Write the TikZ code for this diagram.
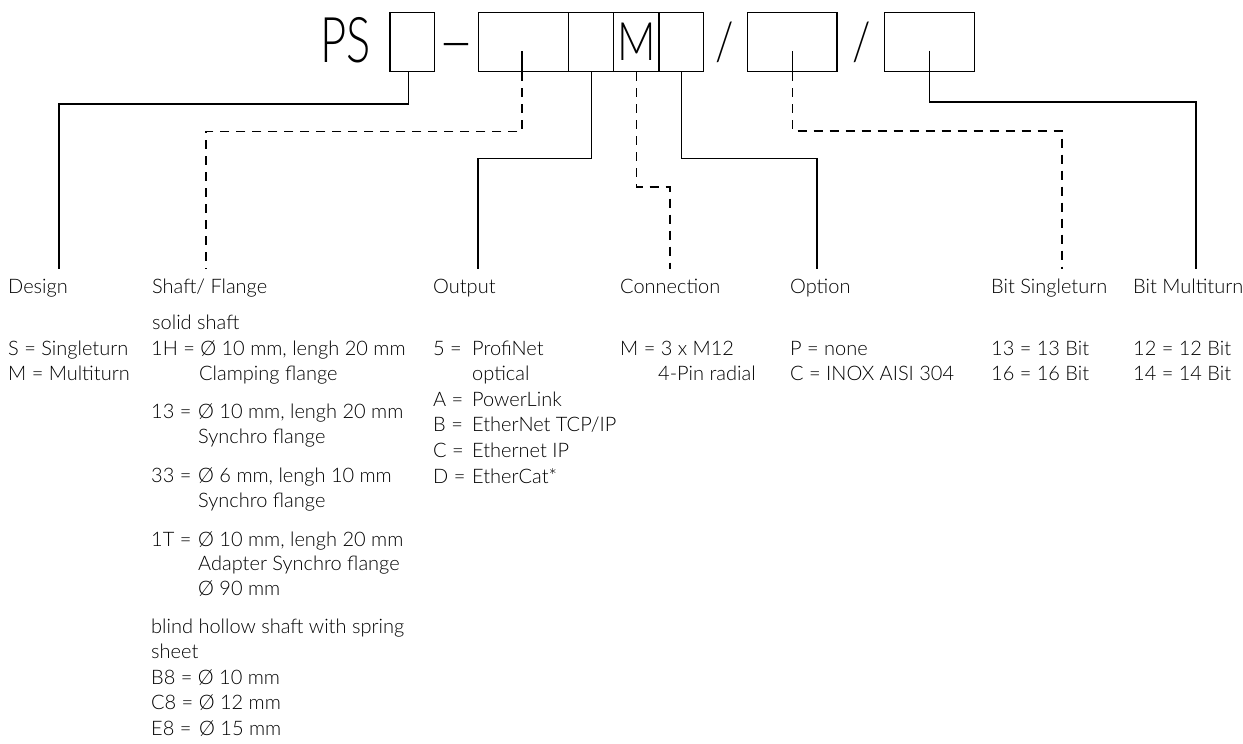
\documentclass[tikz,border=0pt]{standalone}
\usepackage{fontspec}
\setmainfont{Lato Light}
\newfontfamily\psfont[FakeStretch=0.72]{Lato Light}
\newfontfamily\mfont[FakeStretch=0.8]{Lato Light}
\newcommand\putl[4]{\node[txt] (#1) at (#2,#3) {#4};}
\begin{document}
\begin{tikzpicture}[x=1pt,y=-1pt,
  cell/.style={draw, line width=1.3pt, inner sep=0pt, minimum height=58.8pt},
  conn/.style={line width=1.3pt},
  dconn/.style={line width=1.3pt, dash pattern=on 9pt off 7pt},
  txt/.style={anchor=base west, inner sep=0pt, font=\fontsize{20}{24}\selectfont}]
\useasboundingbox (0,0) rectangle (1243,744);
% top code
\node[anchor=base west, inner sep=0pt, font=\psfont\fontsize{63}{70}\selectfont] (ps) at (320,62) {PS};
\node[cell, minimum width=44.3pt] (b1) at (412.2,42.1) {};
\node[anchor=base, inner sep=0pt, font=\fontsize{62}{70}\selectfont] (dash) at (456,62) {–};
\node[cell, minimum width=90.4pt] (c1) at (523.5,42.1) {};
\node[cell, minimum width=45pt] (c2) at (591.2,42.1) {};
\node[cell, minimum width=45.3pt] (c3) at (636.4,42.1) {};
\node[anchor=base, inner sep=0pt, font=\mfont\fontsize{53}{60}\selectfont] (mm) at (636.4,60) {M};
\node[cell, minimum width=44.3pt] (c4) at (681.2,42.1) {};
\node[anchor=center, inner sep=0pt, font=\mfont\fontsize{53}{60}\selectfont] (s1) at (725,42.5) {/};
\node[cell, minimum width=89.3pt] (b2) at (792.4,42.1) {};
\node[anchor=center, inner sep=0pt, font=\mfont\fontsize{53}{60}\selectfont] (s2) at (861.7,42.5) {/};
\node[cell, minimum width=89.6pt] (b3) at (929.5,42.1) {};
% labels
\putl{lDesign}{8}{293}{Design}
\putl{lShaft}{152}{293}{Shaft/ Flange}
\putl{lOutput}{433}{293}{Output}
\putl{lConn}{620}{293}{Connection}
\putl{lOption}{790}{293}{Option}
\putl{lSingle}{991}{293}{Bit Singleturn}
\putl{lMulti}{1133}{293}{Bit Multiturn}
% connector ends
\coordinate (eDesign) at (59,269);
\coordinate (eShaft) at (206,269);
\coordinate (eOutput) at (478,269);
\coordinate (eConn) at (670,269);
\coordinate (eOption) at (817,269);
\coordinate (eSingle) at (1062,269);
\coordinate (eMulti) at (1196,269);
% connectors
\draw[conn] ([xshift=-4pt]b1.south) |- (59,104) -- (eDesign);
\draw[conn] ([xshift=-1.5pt]c1.south) -- ++(0,-21.5);
\draw[dconn] ([xshift=-1.5pt]c1.south) |- (206,131.5) -- (eShaft);
\draw[conn] (c2.south) |- (478,158.7) -- (eOutput);
\draw[dconn] (c3.south) |- (670,187) -- (eConn);
\draw[conn] (c4.south) |- (817,158.7) -- (eOption);
\draw[conn] (b2.south) -- ++(0,-21.5);
\draw[dconn] (b2.south) |- (1062,131) -- (eSingle);
\draw[conn] ([yshift=21.5pt]b3.south) -- (b3.south) |- (1196,102) -- (eMulti);
% Design column
\putl{d1}{8}{355}{S = Singleturn}
\putl{d2}{8}{380.6}{M = Multiturn}
% Shaft column
\putl{f0}{152}{329}{solid shaft}
\putl{f1b}{151}{355}{1H = Ø 10 mm, lengh 20 mm}
\putl{f1c}{199}{380.6}{Clamping flange}
\putl{f2a}{151}{418}{13 =}
\putl{f2b}{198}{418}{Ø 10 mm, lengh 20 mm}
\putl{f2c}{198}{443.6}{Synchro flange}
\putl{f3a}{151}{482}{33 =}
\putl{f3b}{198}{482}{Ø 6 mm, lengh 10 mm}
\putl{f3c}{198}{507.6}{Synchro flange}
\putl{f4a}{151}{546}{1T =}
\putl{f4b}{198}{546}{Ø 10 mm, lengh 20 mm}
\putl{f4c}{198}{570.6}{Adapter Synchro flange}
\putl{f4d}{198}{595.2}{Ø 90 mm}
\putl{f5}{151}{633}{blind hollow shaft with spring}
\putl{f6}{151}{658.6}{sheet}
\putl{f7b}{151}{684.2}{B8 = Ø 10 mm}
\putl{f8b}{151}{709.8}{C8 = Ø 12 mm}
\putl{f9a}{151}{735.4}{E8 =}
\putl{f9b}{199}{735.4}{Ø 15 mm}
% Output column
\putl{o1a}{433}{355}{5 =}
\putl{o1b}{472}{355}{ProfiNet}
\putl{o1c}{472}{380.6}{optical}
\putl{o2a}{433}{406.2}{A =}
\putl{o2b}{472}{406.2}{PowerLink}
\putl{o3a}{433}{431.8}{B =}
\putl{o3b}{472}{431.8}{EtherNet TCP/IP}
\putl{o4a}{433}{457.4}{C =}
\putl{o4b}{472}{457.4}{Ethernet IP}
\putl{o5a}{433}{483}{D =}
\putl{o5b}{472}{483}{EtherCat*}
% Connection column
\putl{k1}{620}{355}{M = 3 x M12}
\putl{k2}{658}{380.6}{4-Pin radial}
% Option column
\putl{p1}{790}{355}{P = none}
\putl{p2}{790}{380.6}{C = INOX AISI 304}
% Bit columns
\putl{s1v}{991}{355}{13 = 13 Bit}
\putl{s2v}{991}{380.6}{16 = 16 Bit}
\putl{m1v}{1133}{355}{12 = 12 Bit}
\putl{m2v}{1133}{380.6}{14 = 14 Bit}
\end{tikzpicture}
\end{document}
